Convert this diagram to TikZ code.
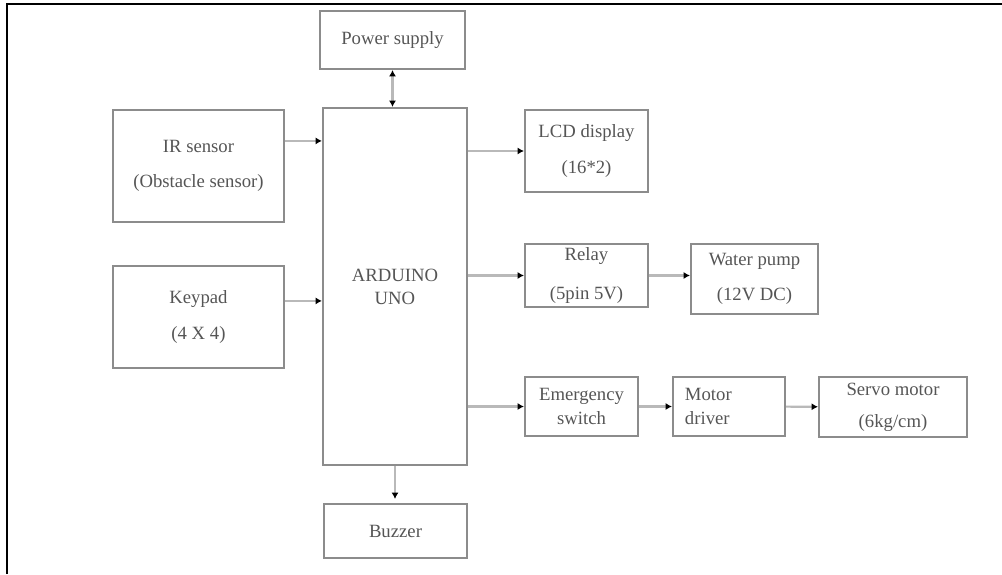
\documentclass[tikz,border=0pt]{standalone}
\usepackage{fontspec}
\setmainfont{Liberation Serif}
\usepackage{tikz}
\usetikzlibrary{positioning,arrows.meta}
\usepackage{xcolor}
\definecolor{BoxGray}{RGB}{140,140,140}
\definecolor{LineGray}{RGB}{185,185,185}
\definecolor{TextGray}{RGB}{85,85,85}

\begin{document}
\begin{tikzpicture}[
x=0.025cm,y=-0.025cm,
box/.style={
rectangle,
draw=BoxGray,
line width=1.5pt,
inner sep=0pt,
align=center,
text=TextGray,
font=\fontsize{13.3}{25}\selectfont
},
arrow/.style={
-{Latex[length=1.6mm,width=1.8mm,color=black]},
line width=1.5pt,
draw=LineGray
},
twoway/.style={
{Latex[length=1.6mm,width=1.8mm,color=black]}-{Latex[length=1.6mm,width=1.8mm,color=black]},
line width=1.5pt,
draw=LineGray
}
]
\useasboundingbox (0,0) rectangle (1002,574);
\draw[line width=1.5pt] (7,574) -- (7,4) -- (1002,4);

\node[box,minimum width=3.625cm,minimum height=1.45cm] (power) at (392.5,40) {Power supply};
\node[box,minimum width=4.275cm,minimum height=2.8cm] (ir) at (198.5,166) {IR sensor\\(Obstacle sensor)};
\node[box,minimum width=4.275cm,minimum height=2.55cm] (keypad) at (198.5,317) {Keypad\\(4 X 4)};
\node[box,minimum width=3.6cm,minimum height=8.925cm,font=\fontsize{13.3}{16.5}\selectfont] (arduino) at (395,286.5) {ARDUINO\\UNO};
\node[box,minimum width=3.075cm,minimum height=2.05cm] (lcd) at (586.5,151) {LCD display\\(16*2)};
\node[box,minimum width=3.075cm,minimum height=1.575cm,font=\fontsize{13.3}{27.5}\selectfont] (relay) at (586.5,275.5) {Relay\\(5pin 5V)};
\node[box,minimum width=3.175cm,minimum height=1.75cm] (pump) at (754.5,279) {Water pump\\(12V DC)};
\node[box,minimum width=2.825cm,minimum height=1.475cm,font=\fontsize{13.3}{17.5}\selectfont] (emergency) at (581.5,406.5) {Emergency\\switch};
\node[box,minimum width=2.8cm,minimum height=1.475cm,text width=2.2cm,align=left,font=\fontsize{13.3}{17.5}\selectfont] (motor) at (729,406.5) {Motor\\driver};
\node[box,minimum width=3.7cm,minimum height=1.5cm,font=\fontsize{13.3}{22.5}\selectfont] (servo) at (893,407) {Servo motor\\(6kg/cm)};
\node[box,minimum width=3.575cm,minimum height=1.35cm] (buzzer) at (395.5,531) {Buzzer};

\draw[twoway] (power.south) -- (power.south |- arduino.north);
\draw[arrow] ([yshift=-0.8cm]ir.north east) coordinate (irout) -- (irout -| arduino.west);
\draw[arrow] ([yshift=-0.9cm]keypad.north east) coordinate (keyout) -- (keyout -| arduino.west);
\draw[arrow] (arduino.east |- lcd.west) -- (lcd.west);
\draw[arrow] (arduino.east |- relay.west) -- (relay.west);
\draw[arrow] (relay.east) -- (relay.east -| pump.west);
\draw[arrow] (arduino.east |- emergency.west) -- (emergency.west);
\draw[arrow] (emergency) -- (motor);
\draw[arrow] (motor) -- (servo);
\draw[arrow] (arduino.south) -- ([yshift=0.1cm]arduino.south |- buzzer.north);

\end{tikzpicture}
\end{document}
